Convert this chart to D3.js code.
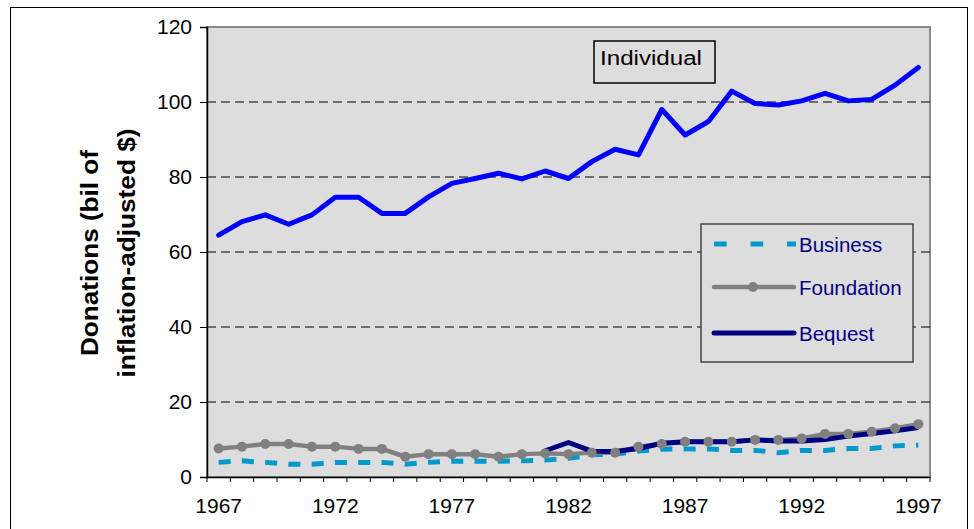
<!DOCTYPE html>
<html>
<head>
<meta charset="utf-8">
<script src="https://cdn.jsdelivr.net/npm/d3@7"></script>
<style>
  body { margin: 0; background: #fff; }
  svg { font-family: Arial, "Liberation Sans", sans-serif; }
</style>
</head>
<body>
<svg id="chart" width="974" height="529"></svg>
<script>
// data (billions of inflation-adjusted $)
const years = d3.range(1967, 1998);
const individual = [64.5, 68.1, 69.9, 67.4, 69.9, 74.6, 74.6, 70.3, 70.3, 74.7,
  78.3, 79.6, 81.0, 79.5, 81.6, 79.6, 84.1, 87.4, 85.9, 98.0,
  91.2, 94.8, 102.9, 99.6, 99.2, 100.3, 102.3, 100.3, 100.7, 104.5, 109.2];
const business = [3.9, 4.3, 3.9, 3.4, 3.4, 3.9, 3.9, 3.9, 3.4, 3.9,
  4.2, 4.2, 4.2, 4.3, 4.5, 5.0, 5.9, 6.1, 6.9, 7.4,
  7.5, 7.5, 7.1, 7.1, 6.5, 7.1, 7.1, 7.6, 7.6, 8.3, 8.5];
const foundation = [7.6, 8.1, 8.8, 8.8, 8.1, 8.1, 7.5, 7.5, 5.4, 6.1,
  6.1, 6.1, 5.4, 6.1, 6.3, 6.1, 6.5, 6.5, 8.1, 8.8,
  9.4, 9.4, 9.4, 9.9, 9.9, 10.3, 11.5, 11.5, 12.1, 13.0, 14.1];
const bequestYears = d3.range(1981, 1998);
const bequest = [7.0, 9.2, 6.9, 6.8, 7.6, 9.0, 9.4, 9.4, 9.4, 9.9,
  9.6, 9.6, 10.0, 10.9, 11.6, 12.3, 13.2];
const yTicks = [0, 20, 40, 60, 80, 100, 120];
const xLabels = [1967, 1972, 1977, 1982, 1987, 1992, 1997];

const svg = d3.select('#chart');
const plotLeft = 207, plotRight = 930, plotTop = 27, plotBottom = 477;
const fontFam = 'Arial, "Liberation Sans", sans-serif';

const x = d3.scaleBand().domain(years).range([plotLeft, plotRight]).padding(0);
const y = d3.scaleLinear().domain([0, 120]).range([plotBottom, plotTop]);
const cx = d => x(d) + x.bandwidth() / 2;

// outer frame
svg.append('rect')
  .attr('x', 10.5).attr('y', 7.5).attr('width', 957).attr('height', 530)
  .attr('fill', 'none').attr('stroke', '#000').attr('stroke-width', 1);

// plot area
svg.append('rect')
  .attr('x', plotLeft).attr('y', plotTop)
  .attr('width', plotRight - plotLeft).attr('height', plotBottom - plotTop)
  .attr('fill', '#dddddd').attr('stroke', '#8a8a8a').attr('stroke-width', 2);

// dashed gridlines
svg.append('g').selectAll('line')
  .data(yTicks.filter(v => v > 0 && v < 120))
  .join('line')
  .attr('x1', plotLeft).attr('x2', plotRight)
  .attr('y1', d => y(d)).attr('y2', d => y(d))
  .attr('stroke', '#000').attr('stroke-width', 1)
  .attr('stroke-dasharray', '9,5');

// y axis
const yAxis = svg.append('g')
  .attr('transform', `translate(${plotLeft},0)`)
  .call(d3.axisLeft(y).tickValues(yTicks).tickSize(7).tickPadding(8));
yAxis.select('.domain').attr('stroke', '#000').attr('stroke-width', 1.5);
yAxis.selectAll('.tick text').attr('font-size', 21).attr('fill', '#000')
  .attr('font-family', fontFam);

// x axis
const xAxis = svg.append('g')
  .attr('transform', `translate(0,${plotBottom})`)
  .call(d3.axisBottom(x).tickValues(xLabels).tickSize(0).tickPadding(21));
xAxis.select('.domain').attr('stroke', '#000').attr('stroke-width', 1.5);
xAxis.selectAll('.tick text').attr('font-size', 21).attr('fill', '#000')
  .attr('font-family', fontFam);
// tick marks between categories
svg.append('g').selectAll('line')
  .data(years.concat([1998]))
  .join('line')
  .attr('x1', d => d === 1998 ? plotRight : x(d))
  .attr('x2', d => d === 1998 ? plotRight : x(d))
  .attr('y1', plotBottom).attr('y2', plotBottom + 5)
  .attr('stroke', '#000').attr('stroke-width', 1);

// axis title
const title = svg.append('text')
  .attr('transform', 'translate(0,253) rotate(-90)')
  .attr('text-anchor', 'middle')
  .attr('font-size', 23).attr('font-weight', 'bold').attr('fill', '#000');
title.append('tspan').attr('x', 0).attr('y', 98)
  .attr('textLength', 206).attr('lengthAdjust', 'spacingAndGlyphs')
  .text('Donations (bil of');
title.append('tspan').attr('x', 0).attr('y', 135)
  .attr('textLength', 249).attr('lengthAdjust', 'spacingAndGlyphs')
  .text('inflation-adjusted $)');

const line = d3.line().x(d => cx(d[0])).y(d => y(d[1]));

// individual
svg.append('path')
  .datum(d3.zip(years, individual))
  .attr('d', line)
  .attr('fill', 'none').attr('stroke', '#0000ff').attr('stroke-width', 5)
  .attr('stroke-linejoin', 'round').attr('stroke-linecap', 'round');

// business
svg.append('path')
  .datum(d3.zip(years, business))
  .attr('d', line)
  .attr('fill', 'none').attr('stroke', '#0099cc').attr('stroke-width', 5)
  .attr('stroke-dasharray', '12,11.3');

// foundation line
svg.append('path')
  .datum(d3.zip(years, foundation))
  .attr('d', line)
  .attr('fill', 'none').attr('stroke', '#808080').attr('stroke-width', 4.5)
  .attr('stroke-linejoin', 'round');

// bequest
svg.append('path')
  .datum(d3.zip(bequestYears, bequest))
  .attr('d', line)
  .attr('fill', 'none').attr('stroke', '#000080').attr('stroke-width', 5)
  .attr('stroke-linejoin', 'round');

// foundation markers
svg.append('g').selectAll('circle')
  .data(d3.zip(years, foundation))
  .join('circle')
  .attr('cx', d => cx(d[0])).attr('cy', d => y(d[1])).attr('r', 5)
  .attr('fill', '#808080');

// "Individual" label
svg.append('rect')
  .attr('x', 594).attr('y', 41).attr('width', 121).attr('height', 42)
  .attr('fill', 'none').attr('stroke', '#000').attr('stroke-width', 1.5);
svg.append('text')
  .attr('x', 600).attr('y', 65)
  .attr('font-size', 20).attr('fill', '#000')
  .attr('textLength', 102).attr('lengthAdjust', 'spacingAndGlyphs')
  .text('Individual');

// legend
const legend = svg.append('g');
legend.append('rect')
  .attr('x', 701).attr('y', 224).attr('width', 212).attr('height', 138)
  .attr('fill', '#dddddd').attr('stroke', '#444').attr('stroke-width', 1.5);
const items = [
  { name: 'Business', color: '#0099cc', dash: '12.7,23.8', marker: false, w: 5, ly: 244 },
  { name: 'Foundation', color: '#808080', dash: null, marker: true, w: 4.5, ly: 287 },
  { name: 'Bequest', color: '#000080', dash: null, marker: false, w: 5, ly: 333 }
];
items.forEach(it => {
  legend.append('line')
    .attr('x1', 714).attr('x2', it.dash ? 796 : 794)
    .attr('y1', it.ly).attr('y2', it.ly)
    .attr('stroke', it.color).attr('stroke-width', it.w)
    .attr('stroke-linecap', it.dash ? 'butt' : 'round')
    .attr('stroke-dasharray', it.dash);
  if (it.marker) {
    legend.append('circle').attr('cx', 753).attr('cy', it.ly).attr('r', 5).attr('fill', it.color);
  }
  legend.append('text')
    .attr('x', 799).attr('y', it.ly + 8)
    .attr('font-size', 20.5).attr('fill', '#000080').text(it.name);
});
</script>
</body>
</html>
